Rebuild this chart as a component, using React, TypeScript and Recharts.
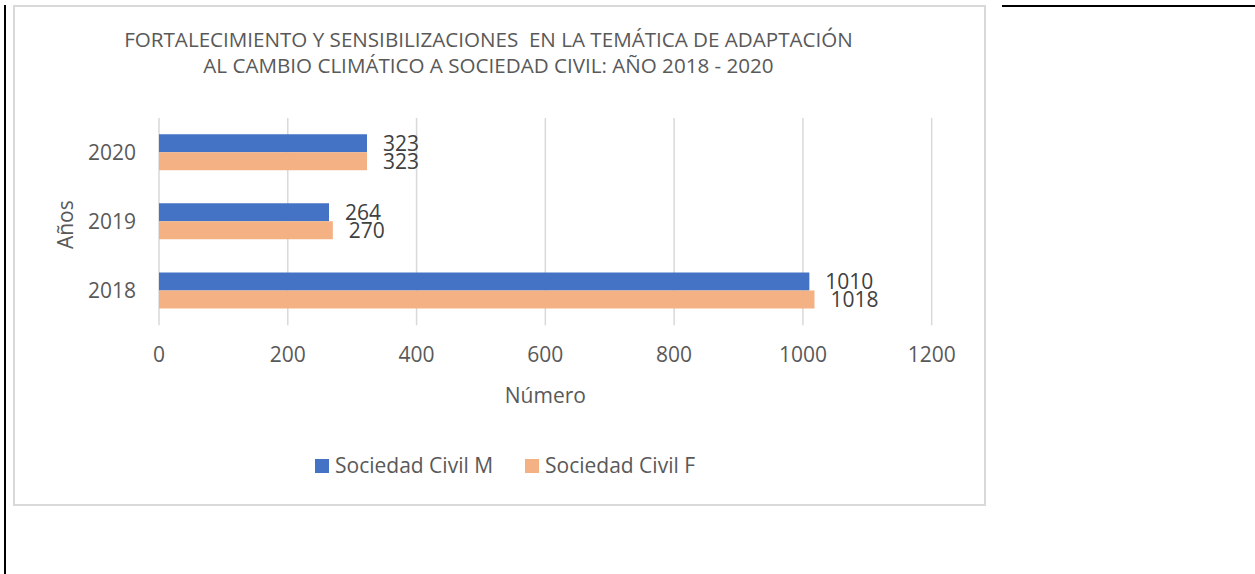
import React from 'react';
import { BarChart, Bar, XAxis, YAxis, CartesianGrid, LabelList, Legend, Label } from 'recharts';

const years = ['2018', '2019', '2020'];
const sociedadCivilM = [1010, 264, 323];
const sociedadCivilF = [1018, 270, 323];
const xTicks = [0, 200, 400, 600, 800, 1000, 1200];
const seriesNames = ['Sociedad Civil M', 'Sociedad Civil F'];
const seriesColors = ['#4472C4', '#F4B183'];
const titleLines = [
  'FORTALECIMIENTO Y SENSIBILIZACIONES  EN LA TEMÁTICA DE ADAPTACIÓN',
  'AL CAMBIO CLIMÁTICO A SOCIEDAD CIVIL: AÑO 2018 - 2020',
];
const xAxisTitle = 'Número';
const yAxisTitle = 'Años';

const data = years.map((y, i) => ({ year: y, m: sociedadCivilM[i], f: sociedadCivilF[i] }));

const FONT = '"Open Sans", sans-serif';
const TEXT = '#595959';

const LegendContent = () => {
  const squares = [315, 525];
  const texts = [335, 545];
  return (
    <div style={{ position: 'relative', width: 1255, height: 28 }}>
      {seriesNames.map((n, i) => (
        <React.Fragment key={n}>
          <div style={{ position: 'absolute', left: squares[i], top: 4, width: 14, height: 14, background: seriesColors[i] }} />
          <div style={{ position: 'absolute', left: texts[i], top: 0, fontFamily: FONT, fontSize: 21, lineHeight: '21px', color: TEXT, whiteSpace: 'pre' }}>{n}</div>
        </React.Fragment>
      ))}
    </div>
  );
};

export default function App() {
  return (
    <div style={{ position: 'absolute', left: 0, top: 0, width: 1255, height: 574, background: '#fff', overflow: 'hidden' }}>
      <div style={{ position: 'absolute', left: 4, top: 5, width: 2, height: 569, background: '#000' }} />
      <div style={{ position: 'absolute', left: 1002, top: 5, width: 253, height: 2, background: '#000' }} />
      <div style={{ position: 'absolute', left: 13, top: 5, width: 973, height: 501, border: '2px solid #d9d9d9', boxSizing: 'border-box' }} />
      <div style={{ position: 'absolute', left: 13, top: 0, width: 973, height: 574 }}>
        <div style={{ position: 'absolute', left: 0, top: 26.3, width: 951, textAlign: 'center', fontFamily: FONT, fontSize: 20.6, lineHeight: '26px', color: TEXT, whiteSpace: 'pre' }}>
          {titleLines.map((l) => (
            <div key={l}>{l}</div>
          ))}
        </div>
      </div>
      <div style={{ position: 'absolute', left: 0, top: 0 }}>
        <BarChart
          width={1255}
          height={574}
          data={data}
          layout="vertical"
          margin={{ top: 118, right: 323.3, bottom: 148.7, left: 59 }}
          barCategoryGap="23.5%"
          barGap={0}
        >
          <CartesianGrid horizontal={false} stroke="#d9d9d9" strokeWidth={1.5} />
          <XAxis
            type="number"
            domain={[0, 1200]}
            ticks={xTicks}
            axisLine={false}
            tickLine={false}
            tickSize={0}
            tickMargin={22}
            height={100}
            tick={{ fill: TEXT, fontSize: 21, fontFamily: FONT }}
            interval={0}
          >
            <Label
              content={(props: any) => {
                const vb = props.viewBox || {};
                return (
                  <text x={vb.x + vb.width / 2} y={vb.y + 78} textAnchor="middle" fill={TEXT} fontSize={21} fontFamily={FONT}>
                    {xAxisTitle}
                  </text>
                );
              }}
            />
          </XAxis>
          <YAxis
            type="category"
            dataKey="year"
            reversed
            width={100}
            axisLine={false}
            tickLine={false}
            tickSize={0}
            tickMargin={23}
            tick={{ fill: TEXT, fontSize: 21, fontFamily: FONT }}
          >
            <Label
              content={(props: any) => {
                const vb = props.viewBox || {};
                const cx = vb.x + 14.5;
                const cy = vb.y + vb.height / 2 + 3;
                return (
                  <text x={cx} y={cy} transform={`rotate(-90 ${cx} ${cy})`} textAnchor="middle" fill={TEXT} fontSize={21} fontFamily={FONT}>
                    {yAxisTitle}
                  </text>
                );
              }}
            />
          </YAxis>
          <Legend verticalAlign="middle" align="center" layout="horizontal" content={<LegendContent />} wrapperStyle={{ left: 0, top: 455, width: 1255, height: 28 }} />
          <Bar dataKey="m" name={seriesNames[0]} fill={seriesColors[0]} isAnimationActive={false}>
            <LabelList dataKey="m" position="right" offset={16} fill="#404040" fontSize={21} fontFamily={FONT} />
          </Bar>
          <Bar dataKey="f" name={seriesNames[1]} fill={seriesColors[1]} isAnimationActive={false}>
            <LabelList dataKey="f" position="right" offset={16} fill="#404040" fontSize={21} fontFamily={FONT} />
          </Bar>
        </BarChart>
      </div>
    </div>
  );
}
